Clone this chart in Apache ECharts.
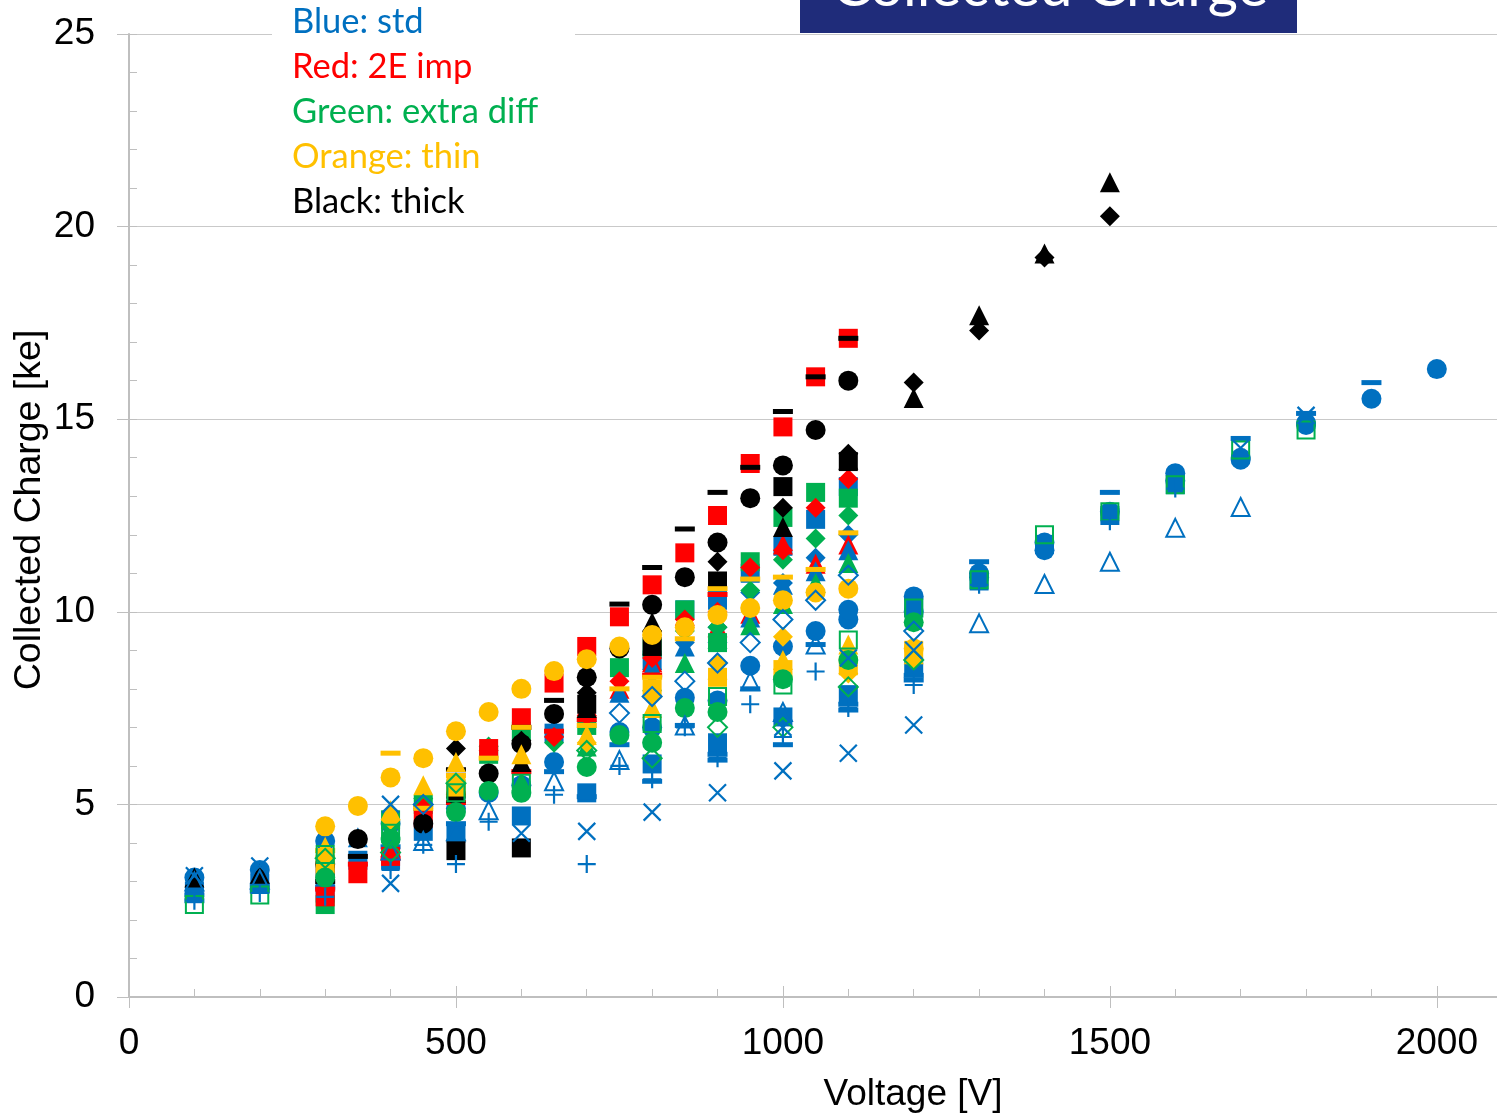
<!DOCTYPE html>
<html>
<head>
<meta charset="utf-8">
<script src="https://cdn.jsdelivr.net/npm/echarts@6/dist/echarts.min.js"></script>
<style>
  html, body { margin: 0; padding: 0; background: #fff; }
  #chart { width: 1497px; height: 1118px; }
</style>
</head>
<body>
<div id="chart"></div>
<script>
// Collected charge [ke] vs bias voltage [V] for several sensor types.
// Each array holds [voltage, charge] pairs for one device.

// std (blue)
const stdCircleA = [[100,3.1],[200,3.3],[300,4.05],[400,4.5],[500,4.9],[600,5.5],[800,7.0],[900,7.7],[1000,9.1],[1100,9.8],[1200,10.4],[1300,11.0],[1400,11.8],[1500,12.6],[1600,13.6],[1700,13.95],[1800,14.85],[1900,15.53],[2000,16.3]];
const stdCircleB = [[550,5.3],[650,6.1],[750,6.88],[850,7.77],[950,8.6],[1050,9.5],[1100,10.05],[1200,10.0],[1300,10.9],[1400,11.6],[1600,13.4],[1700,14.0],[1800,14.9]];
const stdSquareA = [[100,2.75],[200,2.95],[300,2.7],[350,3.55],[400,3.55],[450,4.3],[500,4.25],[600,4.7],[650,6.85],[700,5.3],[800,6.05],[900,6.6],[1000,7.27],[1100,7.85],[1200,8.55],[1300,10.8],[1500,12.5],[1600,13.3]];
const stdSquareB = [[500,5.3],[800,8.75],[850,10.05],[900,10.3],[950,11.0],[1000,11.7],[1050,12.4],[1100,13.25],[1200,10.1],[1400,11.75]];
const stdDiamond = [[800,8.5],[850,9.2],[900,9.6],[950,10.5],[1000,10.75],[1050,11.4],[1100,12.0]];
const stdTriangle = [[350,4.15],[450,5.1],[650,7.0],[700,7.4],[750,7.9],[800,8.57],[850,9.1],[900,9.45],[950,9.85],[1000,10.7],[1050,11.05],[1100,11.6]];
const stdDashA = [[100,2.65],[200,2.9],[300,2.85],[400,3.9],[500,4.5],[650,5.85],[700,5.2],[750,6.55],[800,5.6],[900,6.15],[950,8.0],[1000,6.55],[1100,7.6],[1200,8.23],[1300,11.3],[1500,13.1],[1700,14.5],[1900,15.95]];
const stdDashB = [[100,2.5],[200,2.75],[850,7.05],[900,6.3],[1050,9.15],[1100,7.45],[1200,8.35],[1800,15.15]];
const stdOpenDiamond = [[450,5.0],[750,7.37],[800,7.8],[850,8.2],[900,8.67],[950,9.2],[1000,9.8],[1050,10.3],[1100,10.95],[1200,9.5]];
const stdOpenTriangle = [[100,3.0],[200,3.05],[400,3.8],[450,4.05],[500,4.3],[550,4.85],[650,5.6],[750,6.15],[850,7.05],[950,8.2],[1000,7.4],[1050,9.15],[1300,9.7],[1400,10.72],[1500,11.3],[1600,12.18],[1700,12.72]];
const stdCrossA = [[100,3.15],[200,3.4],[400,2.95],[600,4.25],[700,4.3],[800,4.8],[900,5.3],[1000,5.87],[1100,6.33],[1200,7.06]];
const stdCrossB = [[400,5.0],[1000,7.0],[1100,8.8],[1200,9.0],[1700,14.25],[1800,15.1]];
const stdPlus = [[100,2.5],[200,2.7],[300,2.6],[400,3.3],[450,3.95],[500,3.45],[550,4.55],[650,5.25],[700,3.45],[750,6.0],[800,5.65],[850,7.0],[900,6.2],[950,7.6],[1000,6.75],[1050,8.45],[1100,7.5],[1200,8.1],[1300,10.7],[1500,12.35],[1600,13.2]];

// 2E imp (red)
const impSquare = [[300,2.6],[350,3.2],[400,3.65],[450,4.65],[550,6.45],[600,7.25],[650,8.15],[700,9.1],[750,9.87],[800,10.7],[850,11.53],[900,12.5],[950,13.85],[1000,14.8],[1050,16.1],[1100,17.1]];
const impDiamond = [[450,4.9],[550,6.4],[650,6.75],[700,7.3],[750,8.2],[800,8.8],[850,9.8],[900,10.0],[950,11.15],[1000,11.6],[1050,12.7],[1100,13.45]];
const impTriangle = [[450,5.2],[700,7.55],[750,8.0],[800,8.7],[850,9.9],[900,9.6],[950,9.95],[1000,11.75],[1050,11.25],[1100,11.75]];
const impDash = [[300,2.8],[350,3.45],[400,3.6],[500,5.05],[600,5.85],[650,6.9],[700,7.2],[800,8.36],[900,10.45]];

// extra diff (green)
const diffSquare = [[300,2.4],[400,4.6],[450,5.0],[500,5.4],[550,6.3],[600,6.9],[700,7.05],[750,8.55],[800,9.06],[850,10.05],[900,9.2],[950,11.3],[1000,12.45],[1050,13.1],[1100,12.95]];
const diffDiamond = [[450,5.15],[550,6.5],[650,6.6],[700,7.0],[800,8.9],[850,9.5],[900,9.6],[950,10.55],[1000,11.35],[1050,11.9],[1100,12.5]];
const diffTriangle = [[400,4.4],[450,5.2],[600,5.6],[700,6.5],[800,8.2],[850,8.67],[900,9.3],[950,9.65],[1000,10.2],[1050,10.75],[1100,11.27]];
const diffCircle = [[300,3.1],[400,4.1],[500,4.8],[550,5.35],[600,5.3],[700,5.97],[750,6.8],[800,6.6],[850,7.5],[900,7.4],[1000,8.25],[1100,8.75],[1200,9.73]];
const diffOpenSquare = [[100,2.4],[200,2.65],[300,3.7],[400,4.25],[500,5.3],[600,5.55],[800,7.1],[900,7.8],[1000,8.1],[1100,9.27],[1200,10.1],[1300,10.83],[1400,12.0],[1500,12.6],[1600,13.3],[1700,14.2],[1800,14.72]];
const diffOpenDiamond = [[300,3.6],[400,3.75],[500,5.55],[700,6.4],[800,6.2],[900,7.0],[1000,7.0],[1100,8.05],[1200,8.75]];

// thin (orange)
const thinCircle = [[300,4.43],[350,4.96],[400,5.7],[450,6.2],[500,6.9],[550,7.4],[600,8.0],[650,8.46],[700,8.77],[750,9.1],[800,9.4],[850,9.6],[900,9.92],[950,10.1],[1000,10.3],[1050,10.5],[1100,10.6],[1200,9.05]];
const thinDash = [[300,3.8],[400,6.33],[450,4.9],[500,5.75],[550,6.2],[600,7.0],[700,7.05],[750,8.0],[800,8.3],[850,9.3],[900,10.6],[950,10.85],[1000,10.9],[1050,11.1],[1100,12.05]];
const thinTriangle = [[300,3.9],[400,4.85],[450,5.5],[500,6.1],[600,6.3],[700,6.8],[800,7.5],[900,8.5],[1000,8.75],[1100,9.15],[1200,8.9]];
const thinSquare = [[300,3.45],[500,5.45],[800,8.0],[900,8.3],[1000,8.5],[1100,8.6],[1200,9.0]];
const thinDiamond = [[300,3.75],[400,4.6],[500,5.5],[700,6.6],[800,7.8],[900,8.67],[1000,9.35],[1100,8.4],[1200,8.75]];

// thick (black)
const thickCircle = [[300,3.45],[350,4.1],[450,4.5],[500,5.25],[550,5.8],[600,6.57],[650,7.35],[700,8.3],[750,9.05],[800,10.18],[850,10.9],[900,11.8],[950,12.95],[1000,13.8],[1050,14.72],[1100,16.0]];
const thickSquare = [[300,3.3],[500,3.8],[600,3.87],[700,7.6],[800,9.1],[900,10.8],[1000,13.25],[1100,13.9]];
const thickDiamond = [[300,3.6],[500,6.45],[600,6.65],[700,7.9],[800,9.5],[900,11.3],[1000,12.7],[1100,14.1],[1200,15.95],[1300,17.3],[1400,19.2],[1500,20.27]];
const thickTriangle = [[100,3.1],[200,3.2],[500,5.3],[600,6.1],[700,7.5],[800,9.73],[1000,12.2],[1100,13.95],[1200,15.55],[1300,17.7],[1400,19.3],[1500,21.15]];
const thickDash = [[300,3.0],[350,3.65],[500,5.9],[600,7.0],[650,7.7],[750,10.2],[800,11.15],[850,12.15],[900,13.1],[950,13.75],[1000,15.2],[1050,16.1],[1100,17.1]];

// Legend lines and axis titles
const legendLines = ['Blue: std', 'Red: 2E imp', 'Green: extra diff', 'Orange: thin', 'Black: thick'];
const titleText = 'Collected Charge';
const xName = 'Voltage [V]';
const yName = 'Collected Charge [ke]';

const BLUE = '#0070C0', RED = '#FF0000', GREEN = '#00B050', ORANGE = '#FFC000', BLACK = '#000000';
const legendColors = [BLUE, RED, GREEN, ORANGE, BLACK];

// marker looks
const CROSS = 'path://M0,0L20,20M20,0L0,20';
const PLUS = 'path://M10,0L10,20M0,10L20,10';
function marker(kind, color) {
  const solid = { color, opacity: 1 };
  const hollow = { color: 'none', borderColor: color, borderWidth: 2, opacity: 1 };
  switch (kind) {
    case 'circle': return { symbol: 'circle', symbolSize: 20, itemStyle: solid };
    case 'square': return { symbol: 'rect', symbolSize: 19, itemStyle: solid };
    case 'diamond': return { symbol: 'diamond', symbolSize: 20, itemStyle: solid };
    case 'triangle': return { symbol: 'triangle', symbolSize: 20, itemStyle: solid };
    case 'dash': return { symbol: 'rect', symbolSize: [20, 5], itemStyle: solid };
    case 'openSquare': return { symbol: 'rect', symbolSize: 17, itemStyle: hollow };
    case 'openDiamond': return { symbol: 'diamond', symbolSize: 19, itemStyle: hollow };
    case 'openTriangle': return { symbol: 'triangle', symbolSize: 18, itemStyle: hollow };
    case 'cross': return { symbol: CROSS, symbolSize: 17, itemStyle: Object.assign({}, hollow, { borderWidth: 2.2 }) };
    case 'plus': return { symbol: PLUS, symbolSize: 18, itemStyle: Object.assign({}, hollow, { borderWidth: 2.2 }) };
  }
}

// draw order: later entries paint on top
const seriesSpecs = [
  ['std circle A', stdCircleA, BLUE, 'circle'],
  ['std circle B', stdCircleB, BLUE, 'circle'],
  ['std square A', stdSquareA, BLUE, 'square'],
  ['std square B', stdSquareB, BLUE, 'square'],
  ['std diamond', stdDiamond, BLUE, 'diamond'],
  ['2E imp triangle', impTriangle, RED, 'triangle'],
  ['std triangle', stdTriangle, BLUE, 'triangle'],
  ['std dash A', stdDashA, BLUE, 'dash'],
  ['std dash B', stdDashB, BLUE, 'dash'],
  ['extra diff square', diffSquare, GREEN, 'square'],
  ['extra diff diamond', diffDiamond, GREEN, 'diamond'],
  ['extra diff triangle', diffTriangle, GREEN, 'triangle'],
  ['2E imp square', impSquare, RED, 'square'],
  ['2E imp diamond', impDiamond, RED, 'diamond'],
  ['2E imp dash', impDash, RED, 'dash'],
  ['thick square', thickSquare, BLACK, 'square'],
  ['thick diamond', thickDiamond, BLACK, 'diamond'],
  ['thick triangle', thickTriangle, BLACK, 'triangle'],
  ['thick circle', thickCircle, BLACK, 'circle'],
  ['thick dash', thickDash, BLACK, 'dash'],
  ['thin square', thinSquare, ORANGE, 'square'],
  ['thin diamond', thinDiamond, ORANGE, 'diamond'],
  ['thin triangle', thinTriangle, ORANGE, 'triangle'],
  ['thin dash', thinDash, ORANGE, 'dash'],
  ['extra diff circle', diffCircle, GREEN, 'circle'],
  ['thin circle', thinCircle, ORANGE, 'circle'],
  ['std open diamond', stdOpenDiamond, BLUE, 'openDiamond'],
  ['std open triangle', stdOpenTriangle, BLUE, 'openTriangle'],
  ['extra diff open square', diffOpenSquare, GREEN, 'openSquare'],
  ['extra diff open diamond', diffOpenDiamond, GREEN, 'openDiamond'],
  ['std cross A', stdCrossA, BLUE, 'cross'],
  ['std cross B', stdCrossB, BLUE, 'cross'],
  ['std plus', stdPlus, BLUE, 'plus']
];

const series = seriesSpecs.map(([name, data, color, kind]) => Object.assign({
  type: 'scatter', name, data, xAxisIndex: 0, yAxisIndex: 0, animation: false
}, marker(kind, color)));

const AXIS_GRAY = '#BFBFBF';
const LABEL_FONT = { fontFamily: '"Liberation Sans", Arial, sans-serif', fontSize: 37, color: '#000' };
const TEXT_FONT = 'Lato, "Open Sans", sans-serif';
const X_MAX = 2092; // voltage at the right edge of the plot

const chart = echarts.init(document.getElementById('chart'), null, { renderer: 'canvas' });
chart.setOption({
  backgroundColor: '#fff',
  animation: false,
  grid: { left: 129, top: 34, right: 0, bottom: 121, containLabel: false },
  xAxis: [
    {
      type: 'value', min: 0, max: X_MAX, interval: 500, position: 'bottom',
      axisLine: { show: true, lineStyle: { color: AXIS_GRAY, width: 2 } },
      axisTick: { show: true, inside: false, length: 11, lineStyle: { color: AXIS_GRAY, width: 1 } },
      axisLabel: Object.assign({ margin: 28, showMaxLabel: false, formatter: v => (v % 500 === 0 ? String(v) : '') }, LABEL_FONT),
      splitLine: { show: false }
    },
    {
      type: 'value', min: 0, max: X_MAX, interval: 500, position: 'bottom',
      axisLine: { show: false },
      axisTick: { show: true, inside: true, length: 11, lineStyle: { color: AXIS_GRAY, width: 1 } },
      axisLabel: { show: false }, splitLine: { show: false }
    },
    {
      type: 'value', min: 0, max: X_MAX, interval: 100, position: 'bottom',
      axisLine: { show: false },
      axisTick: { show: true, inside: true, length: 8, lineStyle: { color: AXIS_GRAY, width: 1 } },
      axisLabel: { show: false }, splitLine: { show: false }
    }
  ],
  yAxis: [
    {
      type: 'value', min: 0, max: 25, interval: 5, position: 'left',
      axisLine: { show: true, lineStyle: { color: AXIS_GRAY, width: 2 } },
      axisTick: { show: true, inside: false, length: 12, lineStyle: { color: AXIS_GRAY, width: 1 } },
      axisLabel: Object.assign({ margin: 34 }, LABEL_FONT),
      splitLine: { show: true, lineStyle: { color: '#C9C9C9', width: 1.2 } }
    },
    {
      type: 'value', min: 0, max: 25, interval: 1, position: 'left',
      axisLine: { show: false },
      axisTick: { show: true, inside: true, length: 8, lineStyle: { color: AXIS_GRAY, width: 1 } },
      axisLabel: { show: false }, splitLine: { show: false }
    }
  ],
  series,
  graphic: [
    // legend panel
    { type: 'rect', z: 100, shape: { x: 272, y: 0, width: 303, height: 226 }, style: { fill: '#fff' } },
    ...legendLines.map((t, i) => ({
      type: 'text', z: 101, x: 292, y: 22 + i * 45,
      style: { text: t, fill: legendColors[i], font: '34.5px ' + TEXT_FONT, verticalAlign: 'middle' }
    })),
    // title banner
    { type: 'rect', z: 100, shape: { x: 800, y: 0, width: 497, height: 33 }, style: { fill: '#1F2C7A' } },
    {
      type: 'text', z: 101, x: 1050, y: -13,
      style: { text: titleText, fill: '#fff', font: '58px ' + TEXT_FONT, align: 'center', verticalAlign: 'middle' }
    },
    // axis titles
    {
      type: 'text', z: 101, x: 913, y: 1095,
      style: { text: xName, fill: '#000', font: '37px "Liberation Sans", Arial, sans-serif', align: 'center', verticalAlign: 'middle' }
    },
    {
      type: 'text', z: 101, x: 30, y: 510, rotation: Math.PI / 2,
      style: { text: yName, fill: '#000', font: '37.5px "Liberation Sans", Arial, sans-serif', align: 'center', verticalAlign: 'middle' }
    }
  ]
});
</script>
</body>
</html>
